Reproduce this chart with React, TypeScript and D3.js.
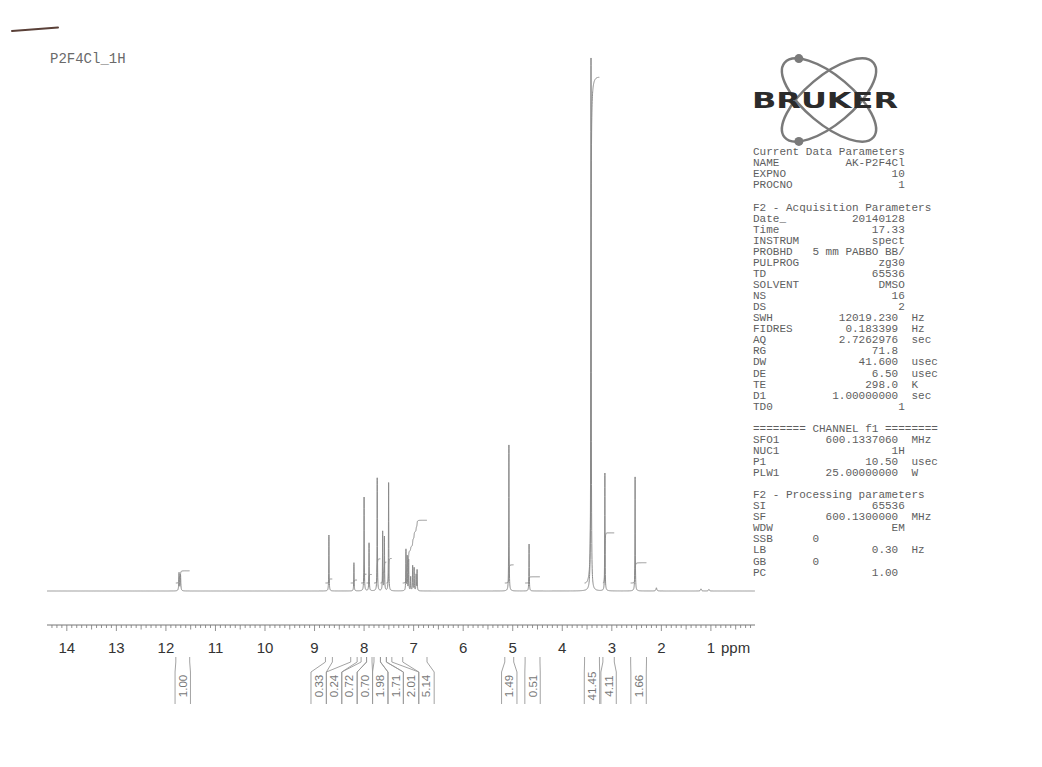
import React from "react";
import * as d3 from "d3";

const plotTitle = "P2F4Cl_1H";
const logoText = "BRUKER";

// Peaks: chemical shift (ppm), height (% of tallest), half width (ppm)
const peakPpm = [11.735, 11.705, 8.71, 8.205, 8.0, 7.9, 7.735, 7.625, 7.59, 7.505, 7.155, 7.13, 7.1, 7.06, 7.02, 6.99, 6.95, 6.93, 5.077, 4.67, 3.42, 3.14, 2.53, 2.1, 1.2, 1.04];
const peakHeight = [3.4, 3.0, 10.5, 5.3, 17.6, 9.0, 21.2, 11.1, 10.1, 20.3, 7.7, 6.4, 5.8, 2.6, 4.7, 4.3, 3.0, 3.9, 27.4, 8.8, 100, 22.1, 21.4, 0.6, 0.4, 0.3];
const peakWidth = [0.006, 0.006, 0.004, 0.004, 0.004, 0.004, 0.004, 0.004, 0.004, 0.004, 0.004, 0.004, 0.004, 0.004, 0.004, 0.004, 0.004, 0.004, 0.004, 0.004, 0.005, 0.004, 0.004, 0.01, 0.01, 0.01];

// Integrals: value and region (ppm)
const integralValues = [1.0, 0.33, 0.24, 0.72, 0.7, 1.98, 1.71, 2.01, 5.14, 1.49, 0.51, 41.45, 4.11, 1.66];
const integralFrom = [11.8, 8.78, 8.27, 8.06, 7.95, 7.8, 7.67, 7.55, 7.22, 5.16, 4.75, 3.55, 3.18, 2.62];
const integralTo = [11.52, 8.64, 8.14, 7.95, 7.84, 7.67, 7.55, 7.44, 6.73, 4.98, 4.45, 3.25, 2.95, 2.3];

const axisTickLabels = [14, 13, 12, 11, 10, 9, 8, 7, 6, 5, 4, 3, 2, 1];
const axisUnit = "ppm";

const r = (l: string, v: string) => (l.length + v.length < 23 ? l.padEnd(23 - v.length, " ") + v : l + " " + v);
const u = (l: string, v: string, unit: string) => l.padEnd(22 - v.length, " ") + v + "  " + unit;
const lf = (l: string, v: string) => l.padEnd(9, " ") + v;

const paramLines = [
  "Current Data Parameters",
  r("NAME", "AK-P2F4Cl"),
  r("EXPNO", "10"),
  r("PROCNO", "1"),
  "",
  "F2 - Acquisition Parameters",
  r("Date_", "20140128"),
  r("Time", "17.33"),
  r("INSTRUM", "spect"),
  r("PROBHD", "5 mm PABBO BB/"),
  r("PULPROG", "zg30"),
  r("TD", "65536"),
  r("SOLVENT", "DMSO"),
  r("NS", "16"),
  r("DS", "2"),
  u("SWH", "12019.230", "Hz"),
  u("FIDRES", "0.183399", "Hz"),
  u("AQ", "2.7262976", "sec"),
  u("RG", "71.8", ""),
  u("DW", "41.600", "usec"),
  u("DE", "6.50", "usec"),
  u("TE", "298.0", "K"),
  u("D1", "1.00000000", "sec"),
  r("TD0", "1"),
  "",
  "======== CHANNEL f1 ========",
  u("SFO1", "600.1337060", "MHz"),
  r("NUC1", "1H"),
  u("P1", "10.50", "usec"),
  u("PLW1", "25.00000000", "W"),
  "",
  "F2 - Processing parameters",
  r("SI", "65536"),
  u("SF", "600.1300000", "MHz"),
  r("WDW", "EM"),
  lf("SSB", "0"),
  u("LB", "0.30", "Hz"),
  lf("GB", "0"),
  u("PC", "1.00", ""),
];

export default function App() {
  const pLo = 0.11, pHi = 14.4;
  const x = d3.scaleLinear().domain([pHi, pLo]).range([47, 755]);
  const y = d3.scaleLinear().domain([0, 100]).range([591, 58]);
  const yInt = d3.scaleLinear().domain([0, 50]).range([583, 583 - 50 * 12.2]);

  const intensity = (p: number) => {
    let s = 0;
    for (let i = 0; i < peakPpm.length; i++) {
      const d = p - peakPpm[i], w = peakWidth[i];
      s += (peakHeight[i] * w * w) / (d * d + w * w);
    }
    return s;
  };
  const grid: number[] = [];
  for (let p = pHi; p >= pLo; p -= 0.002) grid.push(p);
  peakPpm.forEach((c) =>
    [-0.006, -0.003, -0.0015, -0.0006, 0, 0.0006, 0.0015, 0.003, 0.006].forEach((o) => {
      const p = c + o;
      if (p > pLo && p < pHi) grid.push(p);
    })
  );
  grid.sort((a, b) => b - a);
  const spectrum: [number, number][] = grid.map((p) => [p, intensity(p)]);
  const line = d3.line<[number, number]>().x((d) => x(d[0])).y((d) => y(d[1]));

  const integralCurves = integralValues.map((v, i) => {
    const a = integralFrom[i], b = integralTo[i];
    const pts = spectrum.filter((d) => d[0] <= a && d[0] >= b);
    const i0 = pts[0][1], i1 = pts[pts.length - 1][1];
    const base = (p: number) => i0 + ((a - p) / (a - b)) * (i1 - i0);
    const cum = [0];
    for (let k = 1; k < pts.length; k++) {
      const f0 = Math.max(0, pts[k - 1][1] - base(pts[k - 1][0]));
      const f1 = Math.max(0, pts[k][1] - base(pts[k][0]));
      cum.push(cum[k - 1] + ((pts[k - 1][0] - pts[k][0]) * (f0 + f1)) / 2);
    }
    const total = cum[cum.length - 1] || 1;
    return pts.map((d, k) => [d[0], (v * cum[k]) / total] as [number, number]);
  });
  const intLine = d3.line<[number, number]>().x((d) => x(d[0])).y((d) => yInt(d[1]));

  // label layout
  const centers = integralFrom.map((a, i) => x((a + integralTo[i]) / 2));
  const order = centers.map((_, i) => i).sort((p, q) => centers[p] - centers[q]);
  const gap = 15.4;
  let groups = order.map((i) => ({ members: [i], center: centers[i] }));
  let merged = true;
  while (merged) {
    merged = false;
    for (let g = 0; g < groups.length - 1; g++) {
      const A = groups[g], B = groups[g + 1];
      const aRight = A.center + ((A.members.length - 1) / 2) * gap;
      const bLeft = B.center - ((B.members.length - 1) / 2) * gap;
      if (bLeft - aRight < gap) {
        const members = [...A.members, ...B.members];
        const center = d3.mean(members, (m) => centers[m]) as number;
        groups.splice(g, 2, { members, center });
        merged = true;
        break;
      }
    }
  }
  const labelX: number[] = [];
  groups.forEach((G) =>
    G.members.forEach((m, k) => {
      labelX[m] = G.center + (k - (G.members.length - 1) / 2) * gap;
    })
  );
  const hw = gap / 2;
  const yTop = 657, yTick = 662, yBend = 672, yBot = 704;

  const minorTicks = d3.range(2, 144).map((k) => k / 10);

  const grey = "#8a8a8a";
  const ellCx = 829, ellCy = 100, ellRx = 58, ellRy = 24;
  const dot = (ang: number, t: number) => {
    const px = ellRx * Math.cos(t), py = ellRy * Math.sin(t);
    const rad = (ang * Math.PI) / 180;
    return [ellCx + px * Math.cos(rad) - py * Math.sin(rad), ellCy + px * Math.sin(rad) + py * Math.cos(rad)];
  };
  const d1 = dot(40, (-149 * Math.PI) / 180);
  const d2 = dot(-40, (149 * Math.PI) / 180);

  return (
    <svg width={1042} height={767} style={{ position: "absolute", left: 0, top: 0, background: "#fff" }}>
      <rect x={0} y={0} width={1042} height={767} fill="#fff" />
      <path d="M12,31 L58,27.5" stroke="#5a4038" strokeWidth={2} strokeLinecap="round" fill="none" />
      <text x={50} y={63} fontFamily="Liberation Mono, monospace" fontSize={14} fill="#6a6a6a">
        {plotTitle}
      </text>

      {/* spectrum */}
      <path d={line(spectrum) || ""} fill="none" stroke={grey} strokeWidth={1} />
      {integralCurves.map((c, i) => (
        <path key={"int" + i} d={intLine(c) || ""} fill="none" stroke={grey} strokeWidth={1} />
      ))}

      {/* axis */}
      <line x1={47} x2={755} y1={625} y2={625} stroke="#777" strokeWidth={1} />
      {minorTicks.map((p) => {
        const k = Math.round(p * 10);
        const len = k % 10 === 0 ? 6 : k % 5 === 0 ? 4.5 : 3;
        return <line key={"t" + k} x1={x(p)} x2={x(p)} y1={625} y2={625 + len} stroke="#777" strokeWidth={0.8} />;
      })}
      {axisTickLabels.map((t) => (
        <text key={"l" + t} x={x(t)} y={653} textAnchor="middle" fontFamily="Liberation Sans, Arial, sans-serif" fontSize={15} fill="#333">
          {t}
        </text>
      ))}
      <text x={721} y={653} fontFamily="Liberation Sans, Arial, sans-serif" fontSize={15} fill="#333">
        {axisUnit}
      </text>

      {/* integral labels */}
      {integralValues.map((v, i) => {
        const xl = x(integralFrom[i]), xr = x(integralTo[i]);
        const c = labelX[i];
        return (
          <g key={"lab" + i}>
            <path d={`M${xl},${yTop} L${xl},${yTick} L${c - hw},${yBend} L${c - hw},${yBot}`} fill="none" stroke="#999" strokeWidth={0.9} />
            <path d={`M${xr},${yTop} L${xr},${yTick} L${c + hw},${yBend} L${c + hw},${yBot}`} fill="none" stroke="#999" strokeWidth={0.9} />
            <text
              transform={`translate(${c},686) rotate(-90)`}
              textAnchor="middle"
              dominantBaseline="central"
              fontFamily="Liberation Sans, Arial, sans-serif"
              fontSize={11.5}
              fill="#777"
            >
              {v.toFixed(2)}
            </text>
          </g>
        );
      })}

      {/* logo */}
      <ellipse cx={ellCx} cy={ellCy} rx={ellRx} ry={ellRy} transform={`rotate(40 ${ellCx} ${ellCy})`} fill="none" stroke="#7a7a7a" strokeWidth={2.5} />
      <ellipse cx={ellCx} cy={ellCy} rx={ellRx} ry={ellRy} transform={`rotate(-40 ${ellCx} ${ellCy})`} fill="none" stroke="#7a7a7a" strokeWidth={2.5} />
      <circle cx={d1[0]} cy={d1[1]} r={4.5} fill="#7a7a7a" />
      <circle cx={d2[0]} cy={d2[1]} r={4.5} fill="#7a7a7a" />
      <text
        x={752}
        y={108}
        fontFamily="DejaVu Sans, sans-serif"
        fontWeight="bold"
        fontSize={22}
        textLength={146}
        lengthAdjust="spacingAndGlyphs"
        fill="#2b2b2b"
      >
        {logoText}
      </text>

      {/* parameters */}
      {paramLines.map((s, i) =>
        s ? (
          <text key={"p" + i} x={753} y={155.3 + i * 11.06} fontFamily="Liberation Mono, monospace" fontSize={11} fill="#5e5e5e" style={{ whiteSpace: "pre" }}>
            {s}
          </text>
        ) : null
      )}
    </svg>
  );
}
